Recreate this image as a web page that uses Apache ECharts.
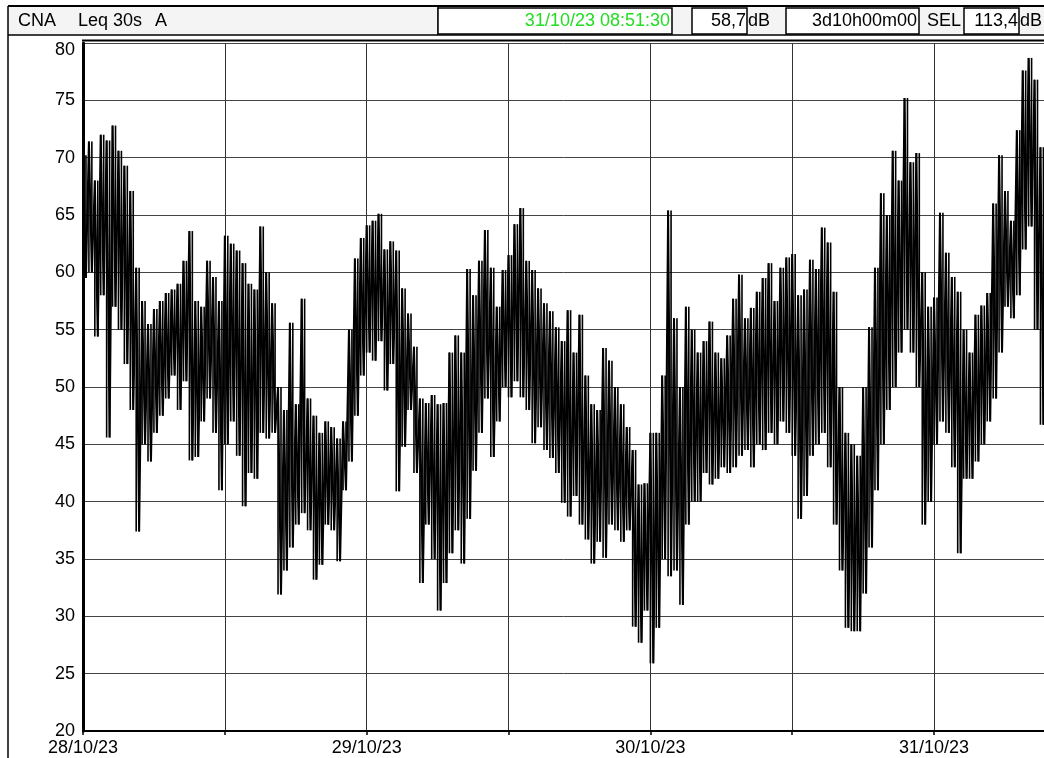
<!DOCTYPE html>
<html lang="en">
<head>
	<meta charset="UTF-8">
	<title>CNA Leq 30s A</title>
	<script src="https://cdn.jsdelivr.net/npm/echarts/dist/echarts.min.js"></script>
	<style>
		body {
			margin: 0;
			background: #fff;
		}
		.box {
			width: 1044px;
			height: 758px;
		}
	</style>
</head>
<body>
	<div class="box"></div>

	<script>
		// day labels at 00:00, one tick every 12 h
		let dayLabels = ['28/10/23', '29/10/23', '30/10/23', '31/10/23'];
		let stepHours = 0.5; // one hi/lo pair per half hour

		// upper envelope of each half hour (dB)
		let hiValues = [
			70.2, 71.4, 68, 72, 71.5, 72.8, 70.6, 69.3, 67.1, 60.4,
			57.5, 55.5, 56.8, 57.5, 58.2, 58.5, 59, 61, 63.6, 57.5,
			57, 61, 59.6, 57.5, 63.2, 62.5, 61.9, 60.8, 59, 58.5,
			64, 60, 57.3, 50, 48, 55.6, 48.5, 57.7, 49, 47.5,
			46, 47, 46.5, 45.5, 47, 55, 61.2, 63, 64.1, 64.5,
			65.1, 62, 62.7, 61.9, 58.6, 56.4, 53.5, 49, 48.6, 49.3,
			48.5, 48.6, 53, 54.5, 53, 60.3, 58, 61, 63.7, 60.4,
			57, 60.2, 61.5, 64.2, 65.6, 61, 60.2, 58.6, 57.3, 56.6,
			55.2, 54, 56.7, 53, 56.3, 51, 48.5, 48, 53.4, 52.3,
			50, 48.5, 46.5, 44.5, 41.5, 41.6, 46, 46, 51, 65.4,
			56, 50, 57, 55, 53, 54, 55.7, 53, 52.5, 54.5,
			57.7, 59.8, 56, 56.9, 58.3, 59.5, 60.8, 57.5, 60.4, 61.3,
			61.6, 58, 58.5, 61.1, 60.3, 63.9, 62.6, 58.3, 50, 46,
			45, 44, 50, 55.2, 60.4, 66.9, 65, 70.6, 68, 75.2,
			69.6, 70.4, 60, 57, 57.8, 65.2, 61.7, 59.6, 58.3, 55,
			53, 56.3, 57.1, 58.2, 66, 70.2, 67.1, 64.5, 72.4, 77.6,
			78.7, 76.8, 70.9
		];
		// lower envelope of each half hour (dB)
		let loValues = [
			59.5, 60, 54.4, 58, 45.6, 57, 55, 52, 48, 37.4,
			45, 43.5, 46, 47.5, 49, 51, 48, 50.5, 43.6, 43.9,
			47, 49, 46, 41, 45, 47, 44, 39.6, 42.5, 42,
			46, 45.5, 46, 31.9, 34, 36, 38, 39, 37.5, 33.2,
			34.5, 38, 37.5, 34.8, 41, 43.5, 47.5, 51, 53, 52.3,
			54, 49.7, 52, 40.9, 44.8, 48, 42.5, 32.9, 38, 35,
			30.5, 32.9, 35.5, 37.5, 34.6, 38.5, 42.7, 46, 49, 43.9,
			47, 50, 49.1, 50.5, 49.1, 48, 45.1, 46.5, 44.5, 43.8,
			42.5, 39.9, 38.7, 40.5, 38, 36.7, 34.6, 36.5, 35.1, 38,
			37.5, 36.5, 37.5, 29.1, 27.7, 30.5, 25.9, 29, 35, 33.5,
			34, 31, 38, 40, 40, 42.5, 41.5, 42, 43, 42.5,
			43, 44, 44.5, 43, 45, 44.5, 46, 45, 47, 46,
			44, 38.5, 40.5, 44, 45, 46, 43, 38, 34, 29,
			28.7, 28.7, 32, 36, 41, 45, 48, 50, 53, 55,
			53, 50, 38, 40, 45, 47, 46, 43, 35.5, 42,
			42, 43.5, 45, 47, 49, 53, 57, 56, 58, 62,
			64, 55, 46.7
		];

		// header texts
		let headerTitle = 'CNA';
		let headerMode = 'Leq 30s';
		let headerWeight = 'A';
		let cursorTime = '31/10/23 08:51:30';
		let cursorLevel = '58,7';
		let duration = '3d10h00m00';
		let selValue = '113,4';

		// zigzag through the half-hour extremes, plus a min-max stroke at each vertex
		let trace = [];
		let ranges = [];
		hiValues.forEach(function(v, i) {
			let t = i * stepHours;
			trace.push([t, v]);
			trace.push([t + stepHours / 2, loValues[i]]);
			ranges.push([t, loValues[i], v]);
			ranges.push([t + stepHours / 2, loValues[i], v]);
		});

		let font = 'Liberation Sans, Arial, sans-serif';
		let chart = echarts.init(document.getElementsByClassName('box')[0]);

		function txt(x, y, s, align, color) {
			return {
				type: 'text', x: x, y: y, z: 20,
				style: {
					text: s, fill: color || '#000', font: '18px ' + font,
					align: align || 'left', verticalAlign: 'middle'
				}
			};
		}
		function box(x, w) {
			return {
				type: 'rect', z: 15,
				shape: {x: x, y: 8, width: w, height: 26},
				style: {fill: '#fff', stroke: '#000', lineWidth: 1.5}
			};
		}
		function hline(y, x1, w) {
			return {
				type: 'line', z: 15,
				shape: {x1: x1, y1: y, x2: 1044, y2: y},
				style: {stroke: '#000', lineWidth: w}
			};
		}

		let options = {
			animation: false,
			backgroundColor: '#fff',
			grid: {left: 83, right: 0, top: 43, bottom: 27},
			xAxis: {
				type: 'value',
				min: 0,
				max: 81.3,
				interval: 12,
				axisLine: {onZero: false, lineStyle: {color: '#000', width: 2}},
				axisTick: {show: true, length: 4, lineStyle: {color: '#000', width: 1.5}},
				axisLabel: {
					margin: 8,
					color: '#000',
					fontSize: 18,
					fontFamily: font,
					showMaxLabel: false,
					formatter: function(v) {
						return v % 24 === 0 ? (dayLabels[v / 24] || '') : '';
					}
				},
				splitLine: {show: true, lineStyle: {color: '#333', width: 1}}
			},
			yAxis: {
				type: 'value',
				min: 20,
				max: 80,
				interval: 5,
				axisLine: {show: true, lineStyle: {color: '#000', width: 3}},
				axisTick: {show: false},
				axisLabel: {
					margin: 8, color: '#000', fontSize: 18, fontFamily: font,
					formatter: function(v) {
						return v === 80 ? '{top|80}' : String(v);
					},
					rich: {
						top: {fontSize: 18, fontFamily: font, color: '#000', padding: [14, 0, 0, 0]}
					}
				},
				splitLine: {show: true, lineStyle: {color: '#444', width: 1}}
			},
			series: [{
				type: 'line',
				data: trace,
				showSymbol: false,
				sampling: null,
				lineStyle: {color: '#000', width: 2, join: 'bevel'},
				z: 5
			}, {
				type: 'custom',
				data: ranges,
				clip: true,
				z: 5,
				renderItem: function(params, api) {
					let top = api.coord([api.value(0), api.value(2)]);
					let bottom = api.coord([api.value(0), api.value(1)]);
					return {
						type: 'line',
						shape: {x1: top[0], y1: top[1], x2: bottom[0], y2: bottom[1]},
						style: {stroke: '#000', lineWidth: 1.6}
					};
				}
			}],
			graphic: {
				elements: [
					{
						type: 'rect', z: 10,
						shape: {x: 8, y: 6, width: 1040, height: 29},
						style: {fill: '#f4f4f4', stroke: null}
					},
					hline(6, 8, 2),
					hline(35, 8, 1.5),
					hline(40.5, 82, 2),
					{
						type: 'line', z: 15,
						shape: {x1: 8, y1: 6, x2: 8, y2: 758},
						style: {stroke: '#000', lineWidth: 1.5}
					},
					{
						type: 'line', z: 15,
						shape: {x1: 438, y1: 6, x2: 438, y2: 35},
						style: {stroke: '#000', lineWidth: 1}
					},
					box(438, 234),
					box(692, 55),
					box(786, 133),
					box(964, 55),
					txt(18, 21, headerTitle),
					txt(78, 21, headerMode),
					txt(155, 21, headerWeight),
					txt(670, 21, cursorTime, 'right', '#22dd22'),
					txt(746, 21, cursorLevel, 'right'),
					txt(748, 21, 'dB'),
					txt(917, 21, duration, 'right'),
					txt(927, 21, 'SEL'),
					txt(1018, 21, selValue, 'right'),
					txt(1020, 21, 'dB')
				]
			}
		};
		chart.setOption(options);
	</script>
</body>
</html>
